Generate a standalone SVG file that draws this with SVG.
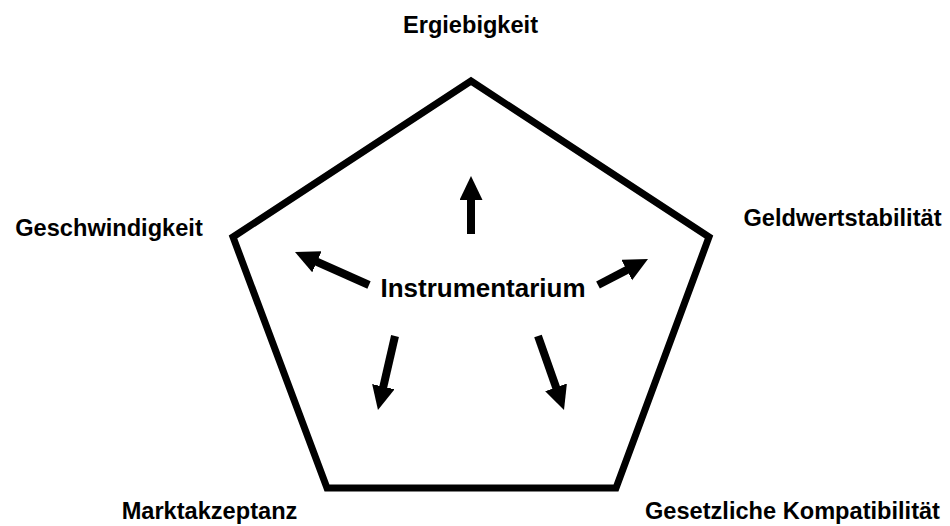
<svg xmlns="http://www.w3.org/2000/svg" width="950" height="526" viewBox="0 0 950 526">
<style>
.lbl{font-family:"Liberation Sans",Arial,sans-serif;font-weight:bold;font-size:23.6px;fill:#000;text-anchor:middle}
.ctr{font-family:"Liberation Sans",Arial,sans-serif;font-weight:bold;font-size:26px;fill:#000;text-anchor:middle}
.arr{stroke:#000;stroke-width:8;fill:none;marker-end:url(#head)}
</style>
<defs>
<marker id="head" markerUnits="userSpaceOnUse" markerWidth="26" markerHeight="24" refX="2" refY="11.5" orient="auto">
<path d="M0,0 L24,11.5 L0,23 z" fill="#000"/>
</marker>
</defs>
<rect width="950" height="526" fill="#fff"/>
<g id="pentagon">
<polygon points="471,81 709,237 616,488 327,488 233,237" fill="none" stroke="#000" stroke-width="7" stroke-linejoin="miter"/>
</g>
<g id="instrumentarium"><text class="ctr" x="483" y="297">Instrumentarium</text></g>
<g id="ergiebigkeit"><text class="lbl" x="470.5" y="33">Ergiebigkeit</text></g>
<g id="geschwindigkeit"><text class="lbl" x="109" y="236">Geschwindigkeit</text></g>
<g id="geldwertstabilitaet"><text class="lbl" x="842.5" y="226">Geldwertstabilität</text></g>
<g id="marktakzeptanz"><text class="lbl" x="209.5" y="519">Marktakzeptanz</text></g>
<g id="gesetzliche-kompatibilitaet"><text class="lbl" x="792.5" y="519">Gesetzliche Kompatibilität</text></g>
<g id="connectors">
<line class="arr" x1="471" y1="234" x2="471" y2="198"/>
<line class="arr" x1="369" y1="285" x2="315.1" y2="261"/>
<line class="arr" x1="598" y1="285" x2="628.5" y2="269.1"/>
<line class="arr" x1="395" y1="336" x2="382.9" y2="388.6"/>
<line class="arr" x1="538" y1="336" x2="556.7" y2="389.2"/>
</g>
</svg>
